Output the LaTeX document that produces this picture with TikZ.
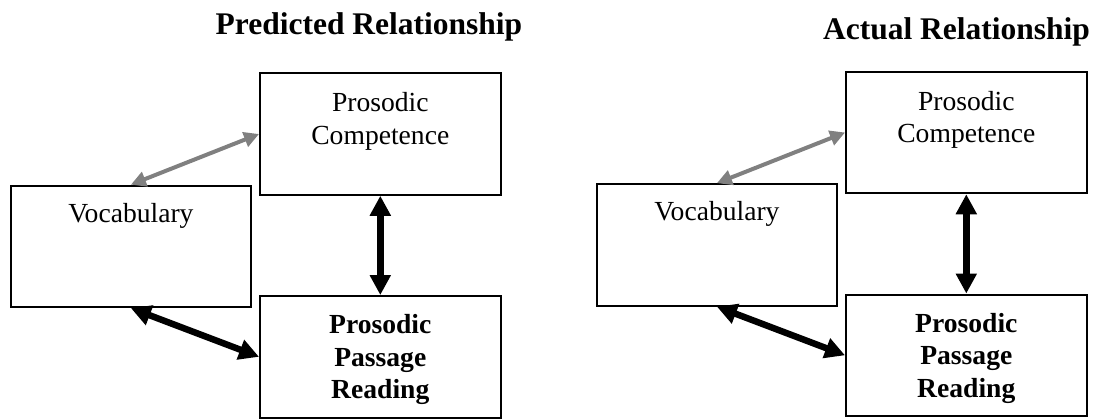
\documentclass[tikz,border=0pt]{standalone}
\usepackage{fontspec}
\setmainfont{Liberation Serif}
\usetikzlibrary{arrows.meta}
\tikzset{
  box/.style={draw=black, line width=2pt, minimum width=240.5pt, minimum height=121.5pt, inner sep=0pt},
  lbl/.style={font=\fontsize{27.6}{32.5}\selectfont, align=center, inner sep=0pt, anchor=north},
  blbl/.style={lbl, font=\fontsize{27.6}{32.5}\selectfont\bfseries},
  paneltitle/.style={font=\fontsize{31.5}{36}\selectfont\bfseries, anchor=base, inner sep=0pt},
  graylink/.style={draw=gray, line width=4pt,
    arrows={Triangle[length=15pt,width=15pt]-Triangle[length=15pt,width=15pt]}},
  blacklink/.style={draw=black, line width=6.5pt,
    arrows={Triangle[length=20pt,width=20pt]-Triangle[length=20pt,width=20pt]}},
}
\begin{document}
\begin{tikzpicture}[x=1pt, y=-1pt]
  \useasboundingbox (0,0) rectangle (1097,418);

  % predicted model
  \node[paneltitle] (titleL) at (369,34) {Predicted Relationship};
  \node[box] (vocL)  at (130.9,246.4) {};
  \node[box] (compL) at (380.3,134) {};
  \node[box] (passL) at (380.3,356.8) {};
  \node[lbl, anchor=base] (vocLt) at (130.9,222) {Vocabulary};
  \node[lbl]  (compLt) at (380.3,92.3) {Prosodic\\Competence};
  \node[blbl] (passLt) at (380.3,314.3) {Prosodic\\Passage\\Reading};
  \draw[graylink]  (vocL.north) -- (compL.west);
  \draw[blacklink] (compL.south) -- (passL.north);
  \draw[blacklink] (vocL.south) -- (passL.west);

  % actual model
  \node[paneltitle] (titleR) at (956.5,39) {Actual Relationship};
  \begin{scope}[shift={(586,-1.5)}]
    \node[box] (vocR)  at (130.9,246.4) {};
    \node[box] (compR) at (380.3,134) {};
    \node[box] (passR) at (380.3,356.8) {};
    \node[lbl, anchor=base] (vocRt) at (130.9,222) {Vocabulary};
    \node[lbl]  (compRt) at (380.3,92.3) {Prosodic\\Competence};
    \node[blbl] (passRt) at (380.3,314.3) {Prosodic\\Passage\\Reading};
    \draw[graylink]  (vocR.north) -- (compR.west);
    \draw[blacklink] (compR.south) -- (passR.north);
    \draw[blacklink] (vocR.south) -- (passR.west);
  \end{scope}
\end{tikzpicture}
\end{document}
